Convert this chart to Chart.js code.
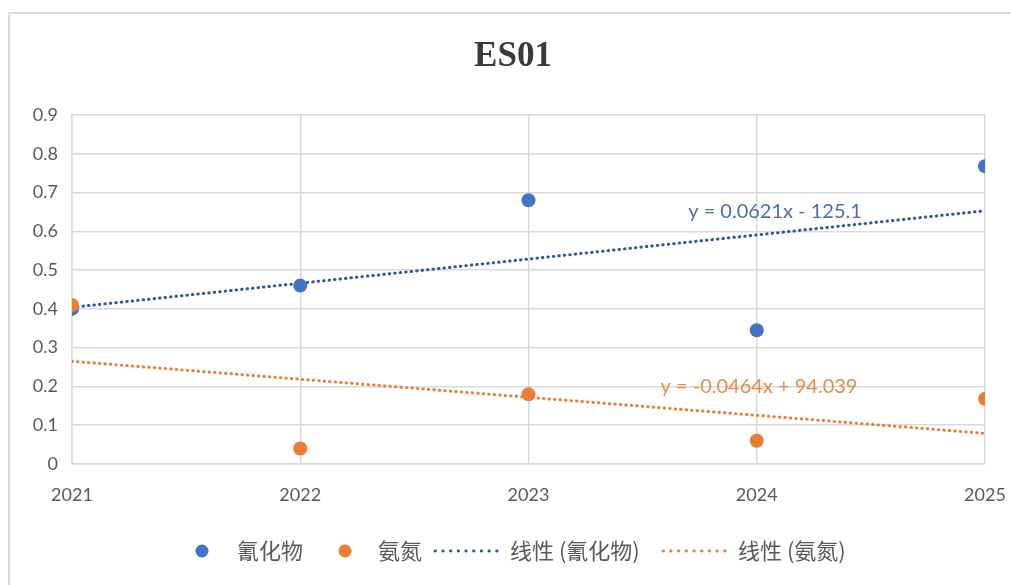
<!DOCTYPE html>
<html><head><meta charset="utf-8">
<script src="https://cdn.jsdelivr.net/npm/chart.js@4.4.1/dist/chart.umd.min.js"></script>
<style>html,body{margin:0;padding:0;background:#fff;overflow:hidden}</style>
</head><body>
<canvas id="c" width="1011" height="585"></canvas>
<script>
const years = [2021, 2022, 2023, 2024, 2025];
const cyanide = [0.40, 0.46, 0.68, 0.345, 0.768];
const ammonia = [0.41, 0.04, 0.18, 0.06, 0.168];
const trendYears = [2021, 2025];
const cyanideTrend = [0.404, 0.653];
const ammoniaTrend = [0.265, 0.079];
const seriesNames = ['氰化物', '氨氮', '线性 (氰化物)', '线性 (氨氮)'];
const equations = ['y = 0.0621x - 125.1', 'y = -0.0464x + 94.039'];
const chartTitle = 'ES01';

const BLUE = '#4472C4', ORANGE = '#ED7D31', TBLUE = '#34569A', TORANGE = '#ED7D31';
const GRAY_TEXT = '#595959';
const LATIN = 'Lato, "Open Sans", sans-serif';
const CJK = '"Noto Sans CJK SC", sans-serif';

const pts = (xs, ys) => xs.map((x, i) => ({x, y: ys[i]}));

const decor = {
  id: 'decor',
  beforeDraw(chart) {
    const ctx = chart.ctx;
    ctx.save();
    ctx.fillStyle = '#fff';
    ctx.fillRect(0, 0, chart.width, chart.height);
    ctx.strokeStyle = '#d9d9d9';
    ctx.lineWidth = 2;
    ctx.beginPath();
    ctx.moveTo(9, chart.height + 5);
    ctx.lineTo(9, 13);
    ctx.lineTo(chart.width + 5, 13);
    ctx.stroke();
    ctx.restore();
  },
  afterDraw(chart) {
    const ctx = chart.ctx;
    const xs = chart.scales.x, ys = chart.scales.y;
    ctx.save();
    ctx.fillStyle = '#3a3a3a';
    ctx.font = 'bold 35px "Liberation Serif", serif';
    ctx.textAlign = 'center';
    ctx.textBaseline = 'middle';
    ctx.fillText(chartTitle, 513, 57);
    ctx.font = '20px ' + LATIN;
    ctx.fillStyle = '#4A6FB5';
    ctx.fillText(equations[0], xs.getPixelForValue(2024.08), ys.getPixelForValue(0.65));
    ctx.fillStyle = '#E98A45';
    ctx.fillText(equations[1], xs.getPixelForValue(2024.01), ys.getPixelForValue(0.199));
    const ly = 551;
    ctx.textAlign = 'left';
    ctx.font = '22px ' + CJK;
    ctx.fillStyle = BLUE;
    ctx.beginPath(); ctx.arc(202, ly, 6.5, 0, Math.PI * 2); ctx.fill();
    ctx.fillStyle = GRAY_TEXT;
    ctx.fillText(seriesNames[0], 237, ly);
    ctx.fillStyle = ORANGE;
    ctx.beginPath(); ctx.arc(345, ly, 6.5, 0, Math.PI * 2); ctx.fill();
    ctx.fillStyle = GRAY_TEXT;
    ctx.fillText(seriesNames[1], 378, ly);
    const dotted = (x0, x1, col) => {
      ctx.save();
      ctx.strokeStyle = col; ctx.lineWidth = 2.8; ctx.lineCap = 'round';
      ctx.setLineDash([0.5, 7.2]);
      ctx.beginPath(); ctx.moveTo(x0, ly); ctx.lineTo(x1, ly); ctx.stroke();
      ctx.restore();
    };
    dotted(435, 500, TBLUE);
    ctx.fillText(seriesNames[2], 510, ly);
    dotted(663, 732, TORANGE);
    ctx.fillText(seriesNames[3], 738, ly);
    ctx.restore();
  }
};

new Chart(document.getElementById('c'), {
  type: 'scatter',
  data: {
    datasets: [
      {label: seriesNames[0], data: pts(years, cyanide), backgroundColor: BLUE, borderColor: BLUE,
       pointRadius: 7, pointHoverRadius: 7, borderWidth: 0, order: 1},
      {label: seriesNames[1], data: pts(years, ammonia), backgroundColor: ORANGE, borderColor: ORANGE,
       pointRadius: 7, pointHoverRadius: 7, borderWidth: 0, order: 0},
      {label: seriesNames[2], type: 'line', data: pts(trendYears, cyanideTrend), borderColor: TBLUE,
       borderWidth: 3, borderDash: [0.5, 5], borderCapStyle: 'round', pointRadius: 0, fill: false, order: 3},
      {label: seriesNames[3], type: 'line', data: pts(trendYears, ammoniaTrend), borderColor: TORANGE,
       borderWidth: 3, borderDash: [0.5, 5], borderCapStyle: 'round', pointRadius: 0, fill: false, order: 2}
    ]
  },
  options: {
    responsive: false,
    animation: false,
    devicePixelRatio: 1,
    layout: {padding: {top: 115, right: 26, left: 0, bottom: 0}},
    plugins: {legend: {display: false}, title: {display: false}, tooltip: {enabled: false}},
    scales: {
      x: {
        type: 'linear', min: 2021, max: 2025,
        afterFit(s) { s.height = 121; s.paddingRight = 0; s.paddingLeft = 0; },
        grid: {color: '#d9d9d9', lineWidth: 1.5, drawTicks: false},
        border: {color: '#d9d9d9', width: 1.5},
        ticks: {stepSize: 1, padding: 20, color: GRAY_TEXT, font: {family: LATIN, size: 18},
                callback: v => String(v)}
      },
      y: {
        min: 0, max: 0.9,
        afterFit(s) { s.width = 72; s.paddingTop = 0; s.paddingBottom = 0; },
        grid: {color: '#d9d9d9', lineWidth: 1.5, drawTicks: false},
        border: {color: '#d9d9d9', width: 1.5},
        ticks: {stepSize: 0.1, padding: 14, color: GRAY_TEXT, font: {family: LATIN, size: 18},
                callback: v => (Math.abs(v) < 1e-9 ? '0' : v.toFixed(1))}
      }
    }
  },
  plugins: [decor]
});
</script>
</body></html>
